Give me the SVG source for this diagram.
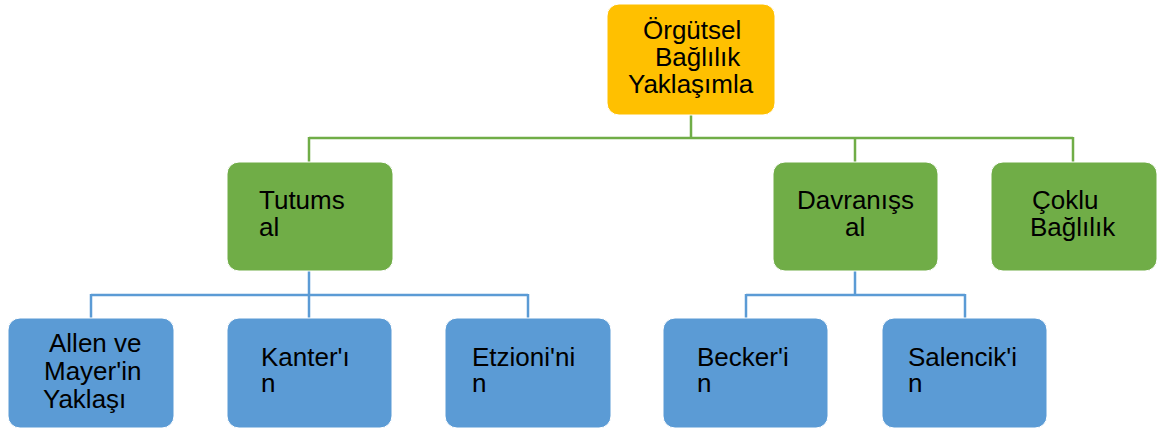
<svg xmlns="http://www.w3.org/2000/svg" width="1172" height="429" viewBox="0 0 1172 429">
<style>
text{font-family:"Liberation Sans",Arial,sans-serif;font-size:26px;fill:#000}
.top{fill:#FFC000;stroke:#fff;stroke-width:1}
.mid{fill:#70AD47;stroke:#fff;stroke-width:1}
.bot{fill:#5B9BD5;stroke:#fff;stroke-width:1}
.g{stroke:#70AD47;stroke-width:2.5;fill:none}
.b{stroke:#5B9BD5;stroke-width:2.5;fill:none}
</style>
<rect width="1172" height="429" fill="#fff"/>
<g id="connectors">
<path class="g" d="M691,115V138M309,138H1073M309,137V162M855,137V162M1073,137V162"/>
<path class="b" d="M309,271V295M91,295H528M91,294V318M309,294V318M528,294V318"/>
<path class="b" d="M855,271V295M746,295H965M746,294V318M965,294V318"/>
</g>
<g id="n-orgutsel">
<rect class="top" x="607" y="4" width="168" height="111" rx="12"/>
<text x="643" y="39">Örgütsel</text>
<text x="655" y="66">Bağlılık</text>
<text x="628" y="93">Yaklaşımla</text>
</g>
<g id="n-tutumsal">
<rect class="mid" x="227" y="162" width="166" height="109" rx="12"/>
<text x="259" y="209">Tutums</text>
<text x="259" y="236">al</text>
</g>
<g id="n-davranissal">
<rect class="mid" x="773" y="162" width="165" height="109" rx="12"/>
<text x="797" y="209">Davranışs</text>
<text x="845" y="236">al</text>
</g>
<g id="n-coklu">
<rect class="mid" x="991" y="162" width="166" height="109" rx="12"/>
<text x="1032" y="209">Çoklu</text>
<text x="1030" y="236">Bağlılık</text>
</g>
<g id="n-allen">
<rect class="bot" x="8" y="318" width="166" height="110" rx="12"/>
<text x="49" y="352">Allen ve</text>
<text x="44" y="380">Mayer'in</text>
<text x="43" y="408">Yaklaşı</text>
</g>
<g id="n-kanter">
<rect class="bot" x="227" y="318" width="165" height="110" rx="12"/>
<text x="261" y="366">Kanter'ı</text>
<text x="261" y="392">n</text>
</g>
<g id="n-etzioni">
<rect class="bot" x="445" y="318" width="166" height="110" rx="12"/>
<text x="472" y="366">Etzioni'ni</text>
<text x="472" y="392">n</text>
</g>
<g id="n-becker">
<rect class="bot" x="663" y="318" width="165" height="110" rx="12"/>
<text x="697" y="366">Becker'i</text>
<text x="697" y="392">n</text>
</g>
<g id="n-salencik">
<rect class="bot" x="882" y="318" width="165" height="110" rx="12"/>
<text x="908" y="366">Salencik'i</text>
<text x="908" y="392">n</text>
</g>
</svg>
